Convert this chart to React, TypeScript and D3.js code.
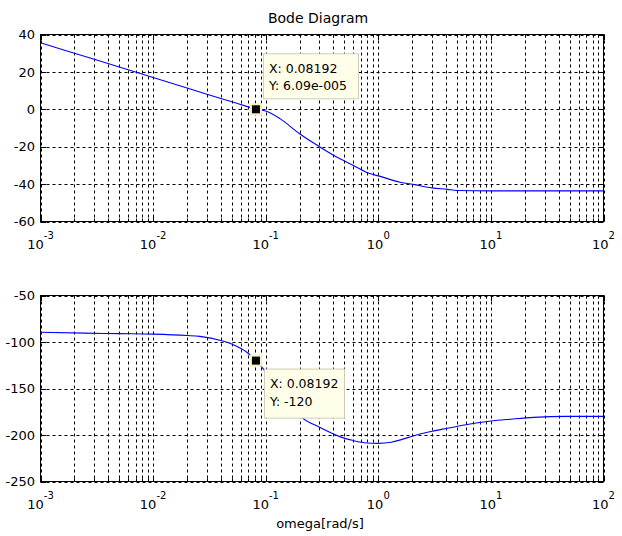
import React from "react";
import * as d3 from "d3";

// ---- data ----
const magFreq = [0.001, 0.002, 0.005, 0.01, 0.02, 0.03, 0.05, 0.07, 0.08192, 0.1, 0.134, 0.2, 0.3, 0.457, 0.6, 0.85, 1.0, 1.56, 2.1, 3.0, 4.1, 5.0, 10, 100];
const magDb = [35.6, 30.0, 22.6, 17.0, 11.4, 8.1, 4.0, 1.3, 0, -0.9, -5.0, -13.1, -20, -26.5, -30, -34.5, -35.6, -39, -40.3, -42, -42.8, -43.4, -43.6, -43.6];

const phFreq = [0.001, 0.0025, 0.005, 0.01, 0.02, 0.026, 0.04, 0.051, 0.068, 0.08192, 0.1, 0.15, 0.209, 0.3, 0.46, 0.6, 0.79, 1.0, 1.3, 1.6, 2.0, 3.0, 4.0, 6.0, 10, 15, 24, 47, 100];
const phDeg = [-89.5, -90.5, -91, -91.5, -93, -94, -98.4, -102.7, -111, -120, -132, -160, -181, -191.6, -202, -206, -208.6, -209, -207.8, -205, -201.3, -196, -193, -189, -185, -183, -181, -180, -180];

const xMajorTicks = [1e-3, 1e-2, 1e-1, 1, 10, 100];
const xTickExponents = ["-3", "-2", "-1", "0", "1", "2"];
const magTicks = [-60, -40, -20, 0, 20, 40];
const phTicks = [-250, -200, -150, -100, -50];

const tipFreq = 0.08192;
const tipMag = 0;
const tipPhase = -120;
const tipMagLines = ["X: 0.08192", "Y: 6.09e-005"];
const tipPhaseLines = ["X: 0.08192", "Y: -120"];

const title = "Bode Diagram";
const xLabel = "omega[rad/s]";

// ---- layout ----
const W = 622, H = 536;
const L = 40.5, R = 603.5;
const FONT = "'DejaVu Sans', Verdana, sans-serif";

const x = d3.scaleLog().domain([1e-3, 1e2]).range([L, R]);
const allXTicks = x.ticks();

type PanelProps = {
  top: number;
  bottom: number;
  yDomain: [number, number];
  yTicks: number[];
  freq: number[];
  vals: number[];
  tipY: number;
  tipLines: string[];
  tipBelow: boolean;
};

function Panel({ top, bottom, yDomain, yTicks, freq, vals, tipY, tipLines, tipBelow }: PanelProps) {
  const y = d3.scaleLinear().domain(yDomain).range([bottom, top]);
  const line = d3
    .line<number>()
    .x((_, i) => x(freq[i]))
    .y((v) => y(v))
    .curve(d3.curveMonotoneX);
  const path = line(vals) || "";
  const majorLen = 5.6;
  const minorLen = 3;
  const isMajor = (t: number) => xMajorTicks.some((m) => Math.abs(Math.log10(t) - Math.log10(m)) < 1e-6);
  const mx = x(tipFreq);
  const my = y(tipY);
  const boxW = tipBelow ? 80 : 95;
  const boxH = tipBelow ? 49 : 45;
  const boxX = tipBelow ? mx + 8 : mx + 7;
  const boxY = tipBelow ? my + 8 : my - 11 - boxH;
  return (
    <g>
      {/* grid */}
      <g stroke="#000" strokeWidth={1} strokeDasharray="3,3" fill="none">
        {allXTicks.map((t, i) => (
          <line key={"gx" + i} x1={Math.round(x(t)) + 0.5} x2={Math.round(x(t)) + 0.5} y1={top} y2={bottom} />
        ))}
        {yTicks.map((t, i) => (
          <line key={"gy" + i} x1={L} x2={R} y1={Math.round(y(t)) + 0.5} y2={Math.round(y(t)) + 0.5} />
        ))}
      </g>
      {/* data */}
      <path d={path} fill="none" stroke="#0000ff" strokeWidth={1.1} />
      {/* box + ticks */}
      <rect x={L} y={top} width={R - L} height={bottom - top} fill="none" stroke="#000" strokeWidth={1} />
      <g stroke="#000" strokeWidth={1}>
        {allXTicks.map((t, i) => {
          const len = isMajor(t) ? majorLen : minorLen;
          const px = Math.round(x(t)) + 0.5;
          return (
            <g key={"tx" + i}>
              <line x1={px} x2={px} y1={bottom} y2={bottom - len} />
              <line x1={px} x2={px} y1={top} y2={top + len} />
            </g>
          );
        })}
        {yTicks.map((t, i) => {
          const py = Math.round(y(t)) + 0.5;
          return (
            <g key={"ty" + i}>
              <line x1={L} x2={L + majorLen} y1={py} y2={py} />
              <line x1={R} x2={R - majorLen} y1={py} y2={py} />
            </g>
          );
        })}
      </g>
      {/* tick labels */}
      <g fontFamily={FONT} fontSize={13} fill="#000">
        {yTicks.map((t, i) => (
          <text key={"ly" + i} x={L - 5.5} y={y(t)} dy="0.36em" textAnchor="end">
            {String(t)}
          </text>
        ))}
        {xMajorTicks.map((t, i) => (
          <text key={"lx" + i} x={x(t)} y={bottom + 27} textAnchor="middle">
            <tspan>10</tspan>
            <tspan dy={-10} fontSize={10}>
              {xTickExponents[i]}
            </tspan>
          </text>
        ))}
      </g>
      {/* data tip */}
      <rect x={mx - 5} y={my - 5} width={10} height={10} fill="#000" stroke="#f6f2c4" strokeWidth={2} />
      <rect x={boxX + 0.5} y={boxY + 0.5} width={boxW} height={boxH} fill="#ffffe9" stroke="#cfcdb8" strokeWidth={1} />
      <g fontFamily={FONT} fontSize={12.5} fill="#000">
        {tipLines.map((s, i) => (
          <text key={"tt" + i} x={boxX + 6} y={boxY + 19.5 + i * 17.5}>
            {s}
          </text>
        ))}
      </g>
    </g>
  );
}

export default function App() {
  return (
    <svg
      width={W}
      height={H}
      viewBox={`0 0 ${W} ${H}`}
      style={{ position: "absolute", left: 0, top: 0, background: "#fff" }}
    >
      <rect x={0} y={0} width={W} height={H} fill="#fff" />
      <text x={318} y={22.5} textAnchor="middle" fontFamily={FONT} fontSize={14} fill="#000">
        {title}
      </text>
      <Panel
        top={34.5}
        bottom={221.5}
        yDomain={[-60, 40]}
        yTicks={magTicks}
        freq={magFreq}
        vals={magDb}
        tipY={tipMag}
        tipLines={tipMagLines}
        tipBelow={false}
      />
      <Panel
        top={295.5}
        bottom={481.5}
        yDomain={[-250, -50]}
        yTicks={phTicks}
        freq={phFreq}
        vals={phDeg}
        tipY={tipPhase}
        tipLines={tipPhaseLines}
        tipBelow={true}
      />
      <text x={320} y={527.5} textAnchor="middle" fontFamily={FONT} fontSize={13} fill="#000">
        {xLabel}
      </text>
    </svg>
  );
}
